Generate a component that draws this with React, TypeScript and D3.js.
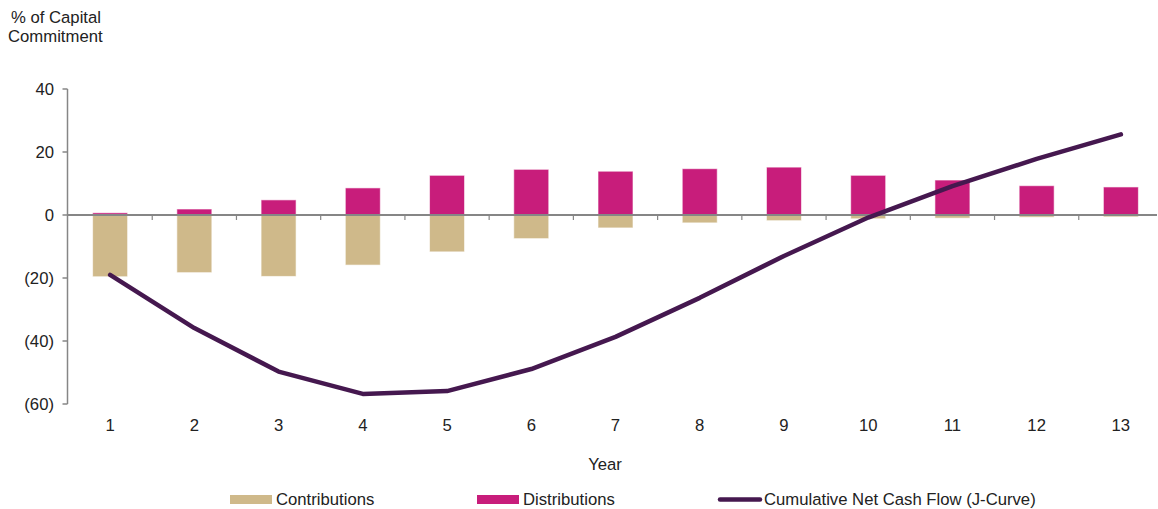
import React from "react";
import * as d3 from "d3";

const years = ["1", "2", "3", "4", "5", "6", "7", "8", "9", "10", "11", "12", "13"];
const contributions = [-19.6, -18.3, -19.5, -15.9, -11.7, -7.5, -4.1, -2.5, -1.8, -1.2, -1.0, -0.7, -0.6];
const distributions = [0.7, 1.9, 4.8, 8.6, 12.6, 14.5, 13.9, 14.7, 15.2, 12.6, 11.1, 9.3, 8.9];
const jCurve = [-19.0, -35.9, -49.7, -56.8, -55.9, -48.9, -38.7, -26.3, -13.0, -0.8, 9.2, 17.8, 25.6];
const yTicks = [40, 20, 0, -20, -40, -60];
const legendItems = ["Contributions", "Distributions", "Cumulative Net Cash Flow (J-Curve)"];

const W = 1158;
const H = 509;
const FONT = "'Liberation Sans', Arial, Helvetica, sans-serif";
const TXT = "#222222";
const AXIS = "#868686";
const C_CONTRIB = "#CFB98A";
const C_DIST = "#C81D7B";
const C_LINE = "#45184F";
const FS = 16.7;

const fmt = (v: number) => (v < 0 ? `(${Math.abs(v)})` : `${v}`);

export default function App() {
  const x = d3.scalePoint<string>().domain(years).range([68, 1163]).padding(0.5);
  const step = x.step();
  const y = d3.scaleLinear().domain([-60, 40]).range([404, 89]);
  const barW = 35;
  const axisLeft = 67.5;

  const line = d3
    .line<number>()
    .x((_, i) => x(years[i]) as number)
    .y((d) => y(d))
    .curve(d3.curveLinear);

  const legendX = [230, 477, 718];
  const legendColors = [C_CONTRIB, C_DIST, C_LINE];

  return (
    <svg
      width={W}
      height={H}
      style={{ position: "absolute", left: 0, top: 0, background: "#fff" }}
      fontFamily={FONT}
    >
      <rect x={0} y={0} width={W} height={H} fill="#fff" />
      {/* axis title */}
      <text x={11} y={23} fontSize={FS} fill={TXT}>% of Capital</text>
      <text x={8} y={42} fontSize={FS} fill={TXT}>Commitment</text>

      {/* bars */}
      {contributions.map((v, i) => (
        <rect
          key={"c" + i}
          x={(x(years[i]) as number) - barW / 2}
          y={y(0)}
          width={barW}
          height={y(v) - y(0)}
          fill={C_CONTRIB}
          stroke="rgba(255,255,255,0.6)"
          strokeWidth={1}
        />
      ))}
      {distributions.map((v, i) => (
        <rect
          key={"d" + i}
          x={(x(years[i]) as number) - barW / 2}
          y={y(v)}
          width={barW}
          height={y(0) - y(v)}
          fill={C_DIST}
          stroke="rgba(255,255,255,0.6)"
          strokeWidth={1}
        />
      ))}

      {/* y axis */}
      <line x1={axisLeft} x2={axisLeft} y1={y(40)} y2={y(-60)} stroke={AXIS} strokeWidth={1.5} />
      {yTicks.map((t) => (
        <g key={t}>
          <line x1={axisLeft - 5} x2={axisLeft} y1={y(t)} y2={y(t)} stroke={AXIS} strokeWidth={1.5} />
          <text x={54} y={y(t)} dy="0.35em" textAnchor="end" fontSize={FS} fill={TXT}>
            {fmt(t)}
          </text>
        </g>
      ))}

      {/* zero axis with category ticks */}
      <line x1={axisLeft} x2={1157} y1={y(0)} y2={y(0)} stroke={AXIS} strokeWidth={2} />
      {years.slice(1).map((yr) => {
        const bx = (x(yr) as number) - step / 2;
        return <line key={"t" + yr} x1={bx} x2={bx} y1={y(0)} y2={y(0) + 5} stroke={AXIS} strokeWidth={1.2} />;
      })}

      {/* x tick labels */}
      {years.map((yr) => (
        <text key={"l" + yr} x={x(yr) as number} y={431} textAnchor="middle" fontSize={FS} fill={TXT}>
          {yr}
        </text>
      ))}
      <text x={605} y={470} textAnchor="middle" fontSize={FS} fill={TXT}>Year</text>

      {/* J-curve */}
      <path d={line(jCurve) || ""} fill="none" stroke={C_LINE} strokeWidth={4.5} strokeLinecap="round" strokeLinejoin="round" />

      {/* legend */}
      {legendItems.map((name, i) => (
        <g key={name}>
          {i < 2 ? (
            <rect x={legendX[i]} y={495} width={42} height={9} fill={legendColors[i]} />
          ) : (
            <line x1={legendX[i] + 2} x2={legendX[i] + 42} y1={499.5} y2={499.5} stroke={legendColors[i]} strokeWidth={4.5} strokeLinecap="round" />
          )}
          <text x={legendX[i] + 46} y={505} fontSize={FS} fill={TXT}>{name}</text>
        </g>
      ))}
    </svg>
  );
}
